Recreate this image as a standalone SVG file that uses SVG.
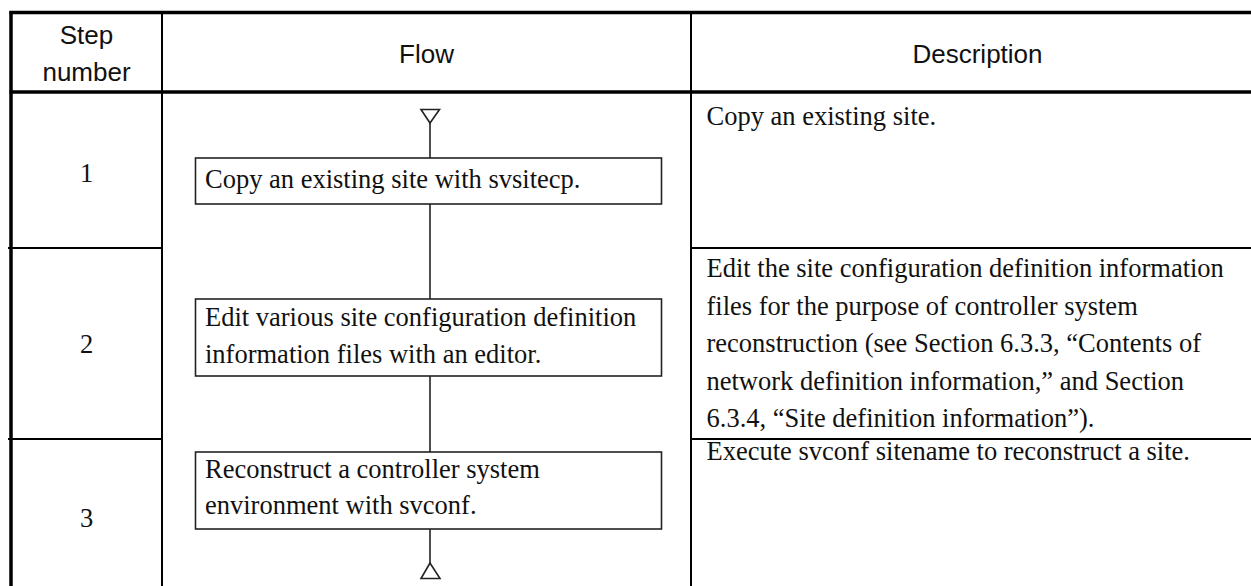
<svg xmlns="http://www.w3.org/2000/svg" width="1251" height="586" viewBox="0 0 1251 586">
  <style>
    .rule { stroke: #000; fill: none; }
    .heavy { stroke-width: 3.5; }
    .thin { stroke-width: 2; }
    .box { fill: #fff; stroke: #222; stroke-width: 1.6; }
    .link { stroke: #222; stroke-width: 1.6; fill: none; }
    .term { fill: #fff; stroke: #222; stroke-width: 1.6; stroke-linejoin: miter; }
    .head { font-family: "Liberation Sans", Arial, sans-serif; font-size: 26px; fill: #111; text-anchor: middle; }
    .body { font-family: "Liberation Serif", "Times New Roman", serif; font-size: 26.5px; fill: #111; }
    .num { font-family: "Liberation Serif", "Times New Roman", serif; font-size: 26.5px; fill: #111; text-anchor: middle; }
  </style>

  <rect width="1251" height="586" fill="#fff"/>

  <!-- table grid -->
  <g id="table">
    <line class="rule heavy" x1="9.5" y1="12.5" x2="1264" y2="12.5"/>
    <line class="rule heavy" x1="11" y1="11" x2="11" y2="590"/>
    <line class="rule heavy" x1="9.5" y1="92" x2="1264" y2="92"/>
    <line class="rule thin" x1="162" y1="12" x2="162" y2="590"/>
    <line class="rule thin" x1="691" y1="12" x2="691" y2="590"/>
    <line class="rule thin" x1="8" y1="248" x2="162" y2="248"/>
    <line class="rule thin" x1="691" y1="248" x2="1264" y2="248"/>
    <line class="rule thin" x1="8" y1="439" x2="162" y2="439"/>
    <line class="rule thin" x1="691" y1="439" x2="1264" y2="439"/>
  </g>

  <!-- column headings -->
  <g id="headings">
    <text class="head" x="86.5" y="44">Step</text>
    <text class="head" x="86.5" y="81">number</text>
    <text class="head" x="426.5" y="63">Flow</text>
    <text class="head" x="977.5" y="63">Description</text>
  </g>

  <!-- step numbers -->
  <g id="step-numbers">
    <text class="num" x="86.5" y="182">1</text>
    <text class="num" x="86.5" y="353">2</text>
    <text class="num" x="86.5" y="527">3</text>
  </g>

  <!-- flow connectors -->
  <g id="connectors">
    <line class="link" x1="430" y1="123" x2="430" y2="158"/>
    <line class="link" x1="430" y1="204" x2="430" y2="299"/>
    <line class="link" x1="430" y1="376" x2="430" y2="452"/>
    <line class="link" x1="430" y1="529" x2="430" y2="563"/>
  </g>

  <!-- start / end terminals -->
  <g id="start">
    <polygon class="term" points="421,109.5 439.5,109.5 430,123"/>
  </g>
  <g id="end">
    <polygon class="term" points="430,563 421,578.5 440,578.5"/>
  </g>

  <!-- process steps -->
  <g id="step1">
    <rect class="box" x="195.5" y="158" width="466" height="46"/>
    <text class="body" x="205" y="188">Copy an existing site with svsitecp.</text>
  </g>
  <g id="step2">
    <rect class="box" x="195.5" y="299" width="466" height="77"/>
    <text class="body" x="205" y="326">Edit various site configuration definition</text>
    <text class="body" x="205" y="363">information files with an editor.</text>
  </g>
  <g id="step3">
    <rect class="box" x="195.5" y="452" width="466" height="77"/>
    <text class="body" x="205" y="478">Reconstruct a controller system</text>
    <text class="body" x="205" y="514">environment with svconf.</text>
  </g>

  <!-- descriptions -->
  <g id="desc1">
    <text class="body" x="706.5" y="125">Copy an existing site.</text>
  </g>
  <g id="desc2">
    <text class="body" x="706.5" y="277">Edit the site configuration definition information</text>
    <text class="body" x="706.5" y="314.5">files for the purpose of controller system</text>
    <text class="body" x="706.5" y="352">reconstruction (see Section 6.3.3, “Contents of</text>
    <text class="body" x="706.5" y="389.5">network definition information,” and Section</text>
    <text class="body" x="706.5" y="427">6.3.4, “Site definition information”).</text>
  </g>
  <g id="desc3">
    <text class="body" x="706.5" y="460">Execute svconf sitename to reconstruct a site.</text>
  </g>
</svg>
